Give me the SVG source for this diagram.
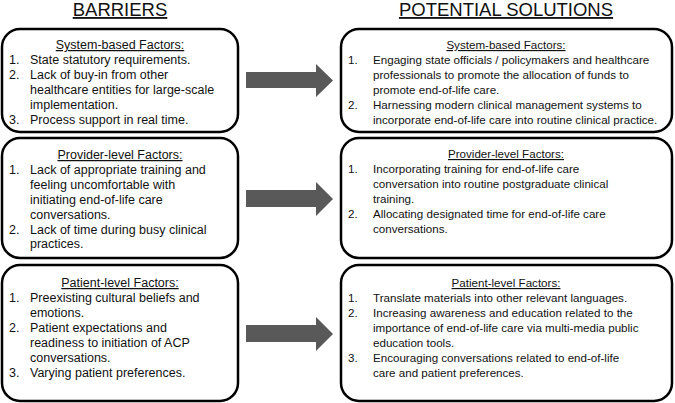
<svg xmlns="http://www.w3.org/2000/svg" width="675" height="403" viewBox="0 0 675 403">
<style>
.box{fill:#fff;stroke:#000;stroke-width:2.5}
.t{font-family:"Liberation Sans",Arial,sans-serif;font-size:12.5px;fill:#111}
.r{font-size:11.6px}
.h{text-anchor:middle;text-decoration:underline}
.title{font-family:"Liberation Sans",Arial,sans-serif;font-size:18.5px;fill:#111;text-anchor:middle;text-decoration:underline}
.arrow{fill:#595959}
</style>
<rect width="675" height="403" fill="#fff"/>
<g id="title-barriers"><text class="title" x="120" y="16">BARRIERS</text></g>
<g id="title-solutions"><text class="title" x="506" y="16">POTENTIAL SOLUTIONS</text></g>

<g id="barrier-system">
<rect class="box" x="2" y="29" width="236" height="103" rx="18"/>
<text class="t h" x="120" y="49">System-based Factors:</text>
<text class="t" x="9" y="64">1.</text><text class="t" x="30" y="64">State statutory requirements.</text>
<text class="t" x="9" y="79">2.</text><text class="t" x="30" y="79">Lack of buy-in from other</text>
<text class="t" x="30" y="94">healthcare entities for large-scale</text>
<text class="t" x="30" y="109">implementation.</text>
<text class="t" x="9" y="124">3.</text><text class="t" x="30" y="124">Process support in real time.</text>
</g>

<g id="barrier-provider">
<rect class="box" x="2" y="138" width="236" height="120" rx="18"/>
<text class="t h" x="120" y="159">Provider-level Factors:</text>
<text class="t" x="9" y="174">1.</text><text class="t" x="30" y="174">Lack of appropriate training and</text>
<text class="t" x="30" y="189">feeling uncomfortable with</text>
<text class="t" x="30" y="204">initiating end-of-life care</text>
<text class="t" x="30" y="219">conversations.</text>
<text class="t" x="9" y="234">2.</text><text class="t" x="30" y="234">Lack of time during busy clinical</text>
<text class="t" x="30" y="248">practices.</text>
</g>

<g id="barrier-patient">
<rect class="box" x="2" y="265" width="236" height="136" rx="18"/>
<text class="t h" x="120" y="287">Patient-level Factors:</text>
<text class="t" x="9" y="302">1.</text><text class="t" x="30" y="302">Preexisting cultural beliefs and</text>
<text class="t" x="30" y="317">emotions.</text>
<text class="t" x="9" y="332">2.</text><text class="t" x="30" y="332">Patient expectations and</text>
<text class="t" x="30" y="347">readiness to initiation of ACP</text>
<text class="t" x="30" y="362">conversations.</text>
<text class="t" x="9" y="377">3.</text><text class="t" x="30" y="377">Varying patient preferences.</text>
</g>

<g id="solution-system">
<rect class="box" x="341" y="29" width="331" height="103" rx="18"/>
<text class="t r h" x="506" y="49">System-based Factors:</text>
<text class="t r" x="348" y="64">1.</text><text class="t r" x="373" y="64">Engaging state officials / policymakers and healthcare</text>
<text class="t r" x="373" y="79">professionals to promote the allocation of funds to</text>
<text class="t r" x="373" y="94">promote end-of-life care.</text>
<text class="t r" x="348" y="109">2.</text><text class="t r" x="373" y="109">Harnessing modern clinical management systems to</text>
<text class="t r" x="373" y="124">incorporate end-of-life care into routine clinical practice.</text>
</g>

<g id="solution-provider">
<rect class="box" x="341" y="138" width="331" height="120" rx="18"/>
<text class="t r h" x="506" y="158">Provider-level Factors:</text>
<text class="t r" x="348" y="173">1.</text><text class="t r" x="373" y="173">Incorporating training for end-of-life care</text>
<text class="t r" x="373" y="188">conversation into routine postgraduate clinical</text>
<text class="t r" x="373" y="203">training.</text>
<text class="t r" x="348" y="218">2.</text><text class="t r" x="373" y="218">Allocating designated time for end-of-life care</text>
<text class="t r" x="373" y="233">conversations.</text>
</g>

<g id="solution-patient">
<rect class="box" x="341" y="265" width="331" height="136" rx="18"/>
<text class="t r h" x="506" y="287">Patient-level Factors:</text>
<text class="t r" x="348" y="302">1.</text><text class="t r" x="373" y="302">Translate materials into other relevant languages.</text>
<text class="t r" x="348" y="317">2.</text><text class="t r" x="373" y="317">Increasing awareness and education related to the</text>
<text class="t r" x="373" y="332">importance of end-of-life care via multi-media  public</text>
<text class="t r" x="373" y="347">education tools.</text>
<text class="t r" x="348" y="362">3.</text><text class="t r" x="373" y="362">Encouraging conversations related to end-of-life</text>
<text class="t r" x="373" y="377">care and patient preferences.</text>
</g>

<g id="connectors">
<polygon class="arrow" points="246,72 316,72 316,64 333,80.5 316,97 316,88 246,88"/>
<polygon class="arrow" points="246,190 316,190 316,182 333,199 316,216 316,207 246,207"/>
<polygon class="arrow" points="246,325 316,325 316,317 333,334 316,351 316,342 246,342"/>
</g>
</svg>
